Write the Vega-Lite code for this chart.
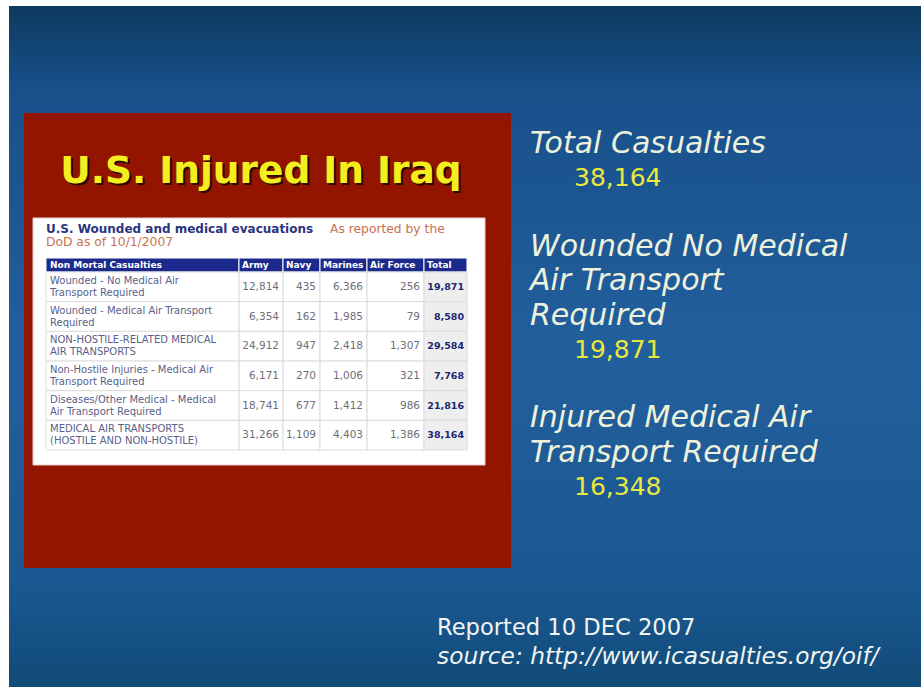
{
  "$schema": "https://vega.github.io/schema/vega-lite/v6.json",
  "width": 922,
  "height": 687,
  "autosize": {"type": "none"},
  "padding": 0,
  "background": "#ffffff",
  "config": {
    "view": {"stroke": null},
    "axis": {"disable": true},
    "text": {"font": "DejaVu Sans"}
  },
  "datasets": {
    "cells": [
      {"casualty": "Wounded - No Medical Air\nTransport Required", "branch": "Army", "count": 12814},
      {"casualty": "Wounded - No Medical Air\nTransport Required", "branch": "Navy", "count": 435},
      {"casualty": "Wounded - No Medical Air\nTransport Required", "branch": "Marines", "count": 6366},
      {"casualty": "Wounded - No Medical Air\nTransport Required", "branch": "Air Force", "count": 256},
      {"casualty": "Wounded - No Medical Air\nTransport Required", "branch": "Total", "count": 19871},
      {"casualty": "Wounded - Medical Air Transport\nRequired", "branch": "Army", "count": 6354},
      {"casualty": "Wounded - Medical Air Transport\nRequired", "branch": "Navy", "count": 162},
      {"casualty": "Wounded - Medical Air Transport\nRequired", "branch": "Marines", "count": 1985},
      {"casualty": "Wounded - Medical Air Transport\nRequired", "branch": "Air Force", "count": 79},
      {"casualty": "Wounded - Medical Air Transport\nRequired", "branch": "Total", "count": 8580},
      {"casualty": "NON-HOSTILE-RELATED MEDICAL\nAIR TRANSPORTS", "branch": "Army", "count": 24912},
      {"casualty": "NON-HOSTILE-RELATED MEDICAL\nAIR TRANSPORTS", "branch": "Navy", "count": 947},
      {"casualty": "NON-HOSTILE-RELATED MEDICAL\nAIR TRANSPORTS", "branch": "Marines", "count": 2418},
      {"casualty": "NON-HOSTILE-RELATED MEDICAL\nAIR TRANSPORTS", "branch": "Air Force", "count": 1307},
      {"casualty": "NON-HOSTILE-RELATED MEDICAL\nAIR TRANSPORTS", "branch": "Total", "count": 29584},
      {"casualty": "Non-Hostile Injuries - Medical Air\nTransport Required", "branch": "Army", "count": 6171},
      {"casualty": "Non-Hostile Injuries - Medical Air\nTransport Required", "branch": "Navy", "count": 270},
      {"casualty": "Non-Hostile Injuries - Medical Air\nTransport Required", "branch": "Marines", "count": 1006},
      {"casualty": "Non-Hostile Injuries - Medical Air\nTransport Required", "branch": "Air Force", "count": 321},
      {"casualty": "Non-Hostile Injuries - Medical Air\nTransport Required", "branch": "Total", "count": 7768},
      {"casualty": "Diseases/Other Medical - Medical\nAir Transport Required", "branch": "Army", "count": 18741},
      {"casualty": "Diseases/Other Medical - Medical\nAir Transport Required", "branch": "Navy", "count": 677},
      {"casualty": "Diseases/Other Medical - Medical\nAir Transport Required", "branch": "Marines", "count": 1412},
      {"casualty": "Diseases/Other Medical - Medical\nAir Transport Required", "branch": "Air Force", "count": 986},
      {"casualty": "Diseases/Other Medical - Medical\nAir Transport Required", "branch": "Total", "count": 21816},
      {"casualty": "MEDICAL AIR TRANSPORTS\n(HOSTILE AND NON-HOSTILE)", "branch": "Army", "count": 31266},
      {"casualty": "MEDICAL AIR TRANSPORTS\n(HOSTILE AND NON-HOSTILE)", "branch": "Navy", "count": 1109},
      {"casualty": "MEDICAL AIR TRANSPORTS\n(HOSTILE AND NON-HOSTILE)", "branch": "Marines", "count": 4403},
      {"casualty": "MEDICAL AIR TRANSPORTS\n(HOSTILE AND NON-HOSTILE)", "branch": "Air Force", "count": 1386},
      {"casualty": "MEDICAL AIR TRANSPORTS\n(HOSTILE AND NON-HOSTILE)", "branch": "Total", "count": 38164}
    ],
    "tableTitle": [
      {"text": "U.S. Wounded and medical evacuations", "line": "1", "part": "main"},
      {"text": "As reported by the", "line": "1", "part": "note"},
      {"text": "DoD as of 10/1/2007", "line": "2", "part": "note"}
    ],
    "stats": [
      {"line": "Total Casualties", "role": "label"},
      {"line": "38,164", "role": "value"},
      {"line": "Wounded No Medical", "role": "label"},
      {"line": "Air Transport", "role": "label"},
      {"line": "Required", "role": "label"},
      {"line": "19,871", "role": "value"},
      {"line": "Injured Medical Air", "role": "label"},
      {"line": "Transport Required", "role": "label"},
      {"line": "16,348", "role": "value"}
    ],
    "notes": [
      {"line": "Reported 10 DEC 2007", "style": "normal"},
      {"line": "source: http://www.icasualties.org/oif/", "style": "italic"}
    ]
  },
  "layer": [
    {
      "data": {"values": [{"part": "slide"}]},
      "mark": {"type": "rect", "fill": {"gradient": "linear", "x1": 0, "y1": 0, "x2": 0, "y2": 1, "stops": [
        {"offset": 0, "color": "#0d3a5e"},
        {"offset": 0.12, "color": "#18508a"},
        {"offset": 0.5, "color": "#225f9d"},
        {"offset": 0.85, "color": "#1b5891"},
        {"offset": 1, "color": "#104b78"}
      ]}},
      "encoding": {
        "x": {"field": "part", "type": "nominal", "scale": {"type": "band", "domain": ["slide"], "range": [9, 921], "paddingInner": 0, "paddingOuter": 0}},
        "y": {"field": "part", "type": "nominal", "scale": {"type": "band", "domain": ["slide"], "range": [6, 687], "paddingInner": 0, "paddingOuter": 0}}
      }
    },
    {
      "data": {"values": [{"part": "panel"}]},
      "mark": {"type": "rect", "color": "#931500"},
      "encoding": {
        "x": {"field": "part", "type": "nominal", "scale": {"type": "band", "domain": ["panel"], "range": [24, 511], "paddingInner": 0, "paddingOuter": 0}},
        "y": {"field": "part", "type": "nominal", "scale": {"type": "band", "domain": ["panel"], "range": [113, 568], "paddingInner": 0, "paddingOuter": 0}}
      }
    },
    {
      "data": {"values": [{"headline": "U.S. Injured In Iraq"}]},
      "mark": {"type": "text", "font": "DejaVu Sans", "fontWeight": "bold", "fontSize": 37.5, "color": "#1a0800", "opacity": 0.85, "dx": 2, "dy": 2, "align": "center", "baseline": "middle"},
      "encoding": {
        "text": {"field": "headline"},
        "x": {"field": "headline", "type": "nominal", "scale": {"type": "band", "domain": ["U.S. Injured In Iraq"], "range": [24, 498], "paddingInner": 0, "paddingOuter": 0}},
        "y": {"field": "headline", "type": "nominal", "scale": {"type": "band", "domain": ["U.S. Injured In Iraq"], "range": [152, 192], "paddingInner": 0, "paddingOuter": 0}}
      }
    },
    {
      "data": {"values": [{"headline": "U.S. Injured In Iraq"}]},
      "mark": {"type": "text", "font": "DejaVu Sans", "fontWeight": "bold", "fontSize": 37.5, "color": "#f3ef1f", "align": "center", "baseline": "middle"},
      "encoding": {
        "text": {"field": "headline"},
        "x": {"field": "headline", "type": "nominal", "scale": {"type": "band", "domain": ["U.S. Injured In Iraq"], "range": [24, 498], "paddingInner": 0, "paddingOuter": 0}},
        "y": {"field": "headline", "type": "nominal", "scale": {"type": "band", "domain": ["U.S. Injured In Iraq"], "range": [152, 192], "paddingInner": 0, "paddingOuter": 0}}
      }
    },
    {
      "data": {"values": [{"part": "sheet"}]},
      "mark": {"type": "rect", "color": "#ffffff", "stroke": "#e6d0cc", "strokeWidth": 1},
      "encoding": {
        "x": {"field": "part", "type": "nominal", "scale": {"type": "band", "domain": ["sheet"], "range": [33, 485], "paddingInner": 0, "paddingOuter": 0}},
        "y": {"field": "part", "type": "nominal", "scale": {"type": "band", "domain": ["sheet"], "range": [218, 465], "paddingInner": 0, "paddingOuter": 0}}
      }
    },
    {
      "data": {"name": "tableTitle"},
      "transform": [{"filter": "datum.part === 'main'"}],
      "mark": {"type": "text", "fontWeight": "bold", "fontSize": 12, "color": "#2b3480", "align": "left", "baseline": "middle"},
      "encoding": {
        "text": {"field": "text"},
        "x": {"datum": "t", "type": "nominal", "bandPosition": 0, "scale": {"type": "band", "domain": ["t"], "range": [46, 470], "paddingInner": 0, "paddingOuter": 0}},
        "y": {"field": "line", "type": "nominal", "scale": {"type": "band", "domain": ["1", "2"], "range": [222.5, 248.5], "paddingInner": 0, "paddingOuter": 0}}
      }
    },
    {
      "data": {"name": "tableTitle"},
      "transform": [{"filter": "datum.part === 'note'"}],
      "mark": {"type": "text", "fontSize": 12.3, "color": "#c9714f", "align": "left", "baseline": "middle"},
      "encoding": {
        "text": {"field": "text"},
        "x": {"field": "line", "type": "nominal", "bandPosition": 0, "scale": {"type": "band", "domain": ["2", "1"], "range": [46, 614], "paddingInner": 0, "paddingOuter": 0}},
        "y": {"field": "line", "type": "nominal", "scale": {"type": "band", "domain": ["1", "2"], "range": [222.5, 248.5], "paddingInner": 0, "paddingOuter": 0}}
      }
    },
    {
      "data": {"values": [{"header": "Non Mortal Casualties"}]},
      "encoding": {
        "x": {"field": "header", "type": "nominal", "bandPosition": 0, "scale": {"type": "band", "domain": ["Non Mortal Casualties"], "range": [46, 239], "paddingInner": 0, "paddingOuter": 0}},
        "y": {"field": "header", "type": "nominal", "scale": {"type": "band", "domain": ["Non Mortal Casualties"], "range": [258, 272], "paddingInner": 0, "paddingOuter": 0}}
      },
      "layer": [
        {"mark": {"type": "rect", "color": "#1b2a8c", "stroke": "#ffffff", "strokeWidth": 1}},
        {"mark": {"type": "text", "fontWeight": "bold", "fontSize": 9, "color": "#ffffff", "align": "left", "baseline": "middle", "dx": 4}, "encoding": {"text": {"field": "header"}}}
      ]
    },
    {
      "data": {"name": "cells"},
      "transform": [{"filter": "datum.branch === 'Total'"}],
      "encoding": {
        "x": {"datum": "Non Mortal Casualties", "type": "nominal", "bandPosition": 0, "scale": {"type": "band", "domain": ["Non Mortal Casualties"], "range": [46, 239], "paddingInner": 0, "paddingOuter": 0}},
        "y": {"field": "casualty", "type": "nominal", "sort": null, "scale": {"type": "band", "range": [272, 450], "paddingInner": 0, "paddingOuter": 0}}
      },
      "layer": [
        {"mark": {"type": "rect", "color": "#ffffff", "stroke": "#dcdcdc", "strokeWidth": 1}},
        {"mark": {"type": "text", "fontSize": 10, "lineHeight": 12, "lineBreak": "\n", "color": "#5a5f8a", "align": "left", "baseline": "middle", "dx": 4, "dy": -6}, "encoding": {"text": {"field": "casualty"}}}
      ]
    },
    {
      "data": {"name": "cells"},
      "transform": [{"filter": "datum.branch === 'Army'"}],
      "resolve": {"scale": {"y": "independent"}},
      "layer": [
        {
          "transform": [{"aggregate": [{"op": "count", "as": "n"}], "groupby": ["branch"]}],
          "encoding": {
            "x": {"field": "branch", "type": "nominal", "bandPosition": 0, "scale": {"type": "band", "domain": ["Army"], "range": [239, 283], "paddingInner": 0, "paddingOuter": 0}},
            "y": {"field": "branch", "type": "nominal", "scale": {"type": "band", "domain": ["Army"], "range": [258, 272], "paddingInner": 0, "paddingOuter": 0}}
          },
          "layer": [
            {"mark": {"type": "rect", "color": "#1b2a8c", "stroke": "#ffffff", "strokeWidth": 1}},
            {"mark": {"type": "text", "fontWeight": "bold", "fontSize": 9, "color": "#ffffff", "align": "left", "baseline": "middle", "dx": 3}, "encoding": {"text": {"field": "branch"}}}
          ]
        },
        {
          "encoding": {
            "x": {"field": "branch", "type": "nominal", "bandPosition": 1, "scale": {"type": "band", "domain": ["Army"], "range": [239, 283], "paddingInner": 0, "paddingOuter": 0}},
            "y": {"field": "casualty", "type": "nominal", "sort": null, "scale": {"type": "band", "range": [272, 450], "paddingInner": 0, "paddingOuter": 0}}
          },
          "layer": [
            {"mark": {"type": "rect", "color": "#ffffff", "stroke": "#dcdcdc", "strokeWidth": 1}},
            {"mark": {"type": "text", "fontSize": 10.5, "color": "#6e6e78", "align": "right", "baseline": "middle", "dx": -4}, "encoding": {"text": {"field": "count", "type": "quantitative", "format": ","}}}
          ]
        }
      ]
    },
    {
      "data": {"name": "cells"},
      "transform": [{"filter": "datum.branch === 'Navy'"}],
      "resolve": {"scale": {"y": "independent"}},
      "layer": [
        {
          "transform": [{"aggregate": [{"op": "count", "as": "n"}], "groupby": ["branch"]}],
          "encoding": {
            "x": {"field": "branch", "type": "nominal", "bandPosition": 0, "scale": {"type": "band", "domain": ["Navy"], "range": [283, 320], "paddingInner": 0, "paddingOuter": 0}},
            "y": {"field": "branch", "type": "nominal", "scale": {"type": "band", "domain": ["Navy"], "range": [258, 272], "paddingInner": 0, "paddingOuter": 0}}
          },
          "layer": [
            {"mark": {"type": "rect", "color": "#1b2a8c", "stroke": "#ffffff", "strokeWidth": 1}},
            {"mark": {"type": "text", "fontWeight": "bold", "fontSize": 9, "color": "#ffffff", "align": "left", "baseline": "middle", "dx": 3}, "encoding": {"text": {"field": "branch"}}}
          ]
        },
        {
          "encoding": {
            "x": {"field": "branch", "type": "nominal", "bandPosition": 1, "scale": {"type": "band", "domain": ["Navy"], "range": [283, 320], "paddingInner": 0, "paddingOuter": 0}},
            "y": {"field": "casualty", "type": "nominal", "sort": null, "scale": {"type": "band", "range": [272, 450], "paddingInner": 0, "paddingOuter": 0}}
          },
          "layer": [
            {"mark": {"type": "rect", "color": "#ffffff", "stroke": "#dcdcdc", "strokeWidth": 1}},
            {"mark": {"type": "text", "fontSize": 10.5, "color": "#6e6e78", "align": "right", "baseline": "middle", "dx": -4}, "encoding": {"text": {"field": "count", "type": "quantitative", "format": ","}}}
          ]
        }
      ]
    },
    {
      "data": {"name": "cells"},
      "transform": [{"filter": "datum.branch === 'Marines'"}],
      "resolve": {"scale": {"y": "independent"}},
      "layer": [
        {
          "transform": [{"aggregate": [{"op": "count", "as": "n"}], "groupby": ["branch"]}],
          "encoding": {
            "x": {"field": "branch", "type": "nominal", "bandPosition": 0, "scale": {"type": "band", "domain": ["Marines"], "range": [320, 367], "paddingInner": 0, "paddingOuter": 0}},
            "y": {"field": "branch", "type": "nominal", "scale": {"type": "band", "domain": ["Marines"], "range": [258, 272], "paddingInner": 0, "paddingOuter": 0}}
          },
          "layer": [
            {"mark": {"type": "rect", "color": "#1b2a8c", "stroke": "#ffffff", "strokeWidth": 1}},
            {"mark": {"type": "text", "fontWeight": "bold", "fontSize": 9, "color": "#ffffff", "align": "left", "baseline": "middle", "dx": 3}, "encoding": {"text": {"field": "branch"}}}
          ]
        },
        {
          "encoding": {
            "x": {"field": "branch", "type": "nominal", "bandPosition": 1, "scale": {"type": "band", "domain": ["Marines"], "range": [320, 367], "paddingInner": 0, "paddingOuter": 0}},
            "y": {"field": "casualty", "type": "nominal", "sort": null, "scale": {"type": "band", "range": [272, 450], "paddingInner": 0, "paddingOuter": 0}}
          },
          "layer": [
            {"mark": {"type": "rect", "color": "#ffffff", "stroke": "#dcdcdc", "strokeWidth": 1}},
            {"mark": {"type": "text", "fontSize": 10.5, "color": "#6e6e78", "align": "right", "baseline": "middle", "dx": -4}, "encoding": {"text": {"field": "count", "type": "quantitative", "format": ","}}}
          ]
        }
      ]
    },
    {
      "data": {"name": "cells"},
      "transform": [{"filter": "datum.branch === 'Air Force'"}],
      "resolve": {"scale": {"y": "independent"}},
      "layer": [
        {
          "transform": [{"aggregate": [{"op": "count", "as": "n"}], "groupby": ["branch"]}],
          "encoding": {
            "x": {"field": "branch", "type": "nominal", "bandPosition": 0, "scale": {"type": "band", "domain": ["Air Force"], "range": [367, 424], "paddingInner": 0, "paddingOuter": 0}},
            "y": {"field": "branch", "type": "nominal", "scale": {"type": "band", "domain": ["Air Force"], "range": [258, 272], "paddingInner": 0, "paddingOuter": 0}}
          },
          "layer": [
            {"mark": {"type": "rect", "color": "#1b2a8c", "stroke": "#ffffff", "strokeWidth": 1}},
            {"mark": {"type": "text", "fontWeight": "bold", "fontSize": 9, "color": "#ffffff", "align": "left", "baseline": "middle", "dx": 3}, "encoding": {"text": {"field": "branch"}}}
          ]
        },
        {
          "encoding": {
            "x": {"field": "branch", "type": "nominal", "bandPosition": 1, "scale": {"type": "band", "domain": ["Air Force"], "range": [367, 424], "paddingInner": 0, "paddingOuter": 0}},
            "y": {"field": "casualty", "type": "nominal", "sort": null, "scale": {"type": "band", "range": [272, 450], "paddingInner": 0, "paddingOuter": 0}}
          },
          "layer": [
            {"mark": {"type": "rect", "color": "#ffffff", "stroke": "#dcdcdc", "strokeWidth": 1}},
            {"mark": {"type": "text", "fontSize": 10.5, "color": "#6e6e78", "align": "right", "baseline": "middle", "dx": -4}, "encoding": {"text": {"field": "count", "type": "quantitative", "format": ","}}}
          ]
        }
      ]
    },
    {
      "data": {"name": "cells"},
      "transform": [{"filter": "datum.branch === 'Total'"}],
      "resolve": {"scale": {"y": "independent"}},
      "layer": [
        {
          "transform": [{"aggregate": [{"op": "count", "as": "n"}], "groupby": ["branch"]}],
          "encoding": {
            "x": {"field": "branch", "type": "nominal", "bandPosition": 0, "scale": {"type": "band", "domain": ["Total"], "range": [424, 467], "paddingInner": 0, "paddingOuter": 0}},
            "y": {"field": "branch", "type": "nominal", "scale": {"type": "band", "domain": ["Total"], "range": [258, 272], "paddingInner": 0, "paddingOuter": 0}}
          },
          "layer": [
            {"mark": {"type": "rect", "color": "#1b2a8c", "stroke": "#ffffff", "strokeWidth": 1}},
            {"mark": {"type": "text", "fontWeight": "bold", "fontSize": 9, "color": "#ffffff", "align": "left", "baseline": "middle", "dx": 3}, "encoding": {"text": {"field": "branch"}}}
          ]
        },
        {
          "encoding": {
            "x": {"field": "branch", "type": "nominal", "bandPosition": 1, "scale": {"type": "band", "domain": ["Total"], "range": [424, 467], "paddingInner": 0, "paddingOuter": 0}},
            "y": {"field": "casualty", "type": "nominal", "sort": null, "scale": {"type": "band", "range": [272, 450], "paddingInner": 0, "paddingOuter": 0}}
          },
          "layer": [
            {"mark": {"type": "rect", "color": "#eeeeee", "stroke": "#dcdcdc", "strokeWidth": 1}},
            {"mark": {"type": "text", "fontSize": 9.5, "fontWeight": "bold", "color": "#1d2570", "align": "right", "baseline": "middle", "dx": -3}, "encoding": {"text": {"field": "count", "type": "quantitative", "format": ","}}}
          ]
        }
      ]
    },
    {
      "data": {"name": "stats"},
      "transform": [{"filter": "datum.role === 'label'"}],
      "mark": {"type": "text", "fontSize": 30, "fontStyle": "italic", "color": "#eef2dc", "align": "left", "baseline": "middle"},
      "encoding": {
        "text": {"field": "line"},
        "x": {"field": "role", "type": "nominal", "bandPosition": 0, "scale": {"type": "band", "domain": ["label", "value"], "range": [530, 574], "paddingInner": 0, "paddingOuter": 0}},
        "y": {"field": "line", "type": "nominal", "scale": {"type": "band", "domain": ["Total Casualties", "38,164", " ", "Wounded No Medical", "Air Transport", "Required", "19,871", "  ", "Injured Medical Air", "Transport Required", "16,348"], "range": [126.85, 504.15], "paddingInner": 0, "paddingOuter": 0}}
      }
    },
    {
      "data": {"name": "stats"},
      "transform": [{"filter": "datum.role === 'value'"}],
      "mark": {"type": "text", "fontSize": 25, "color": "#ebe83c", "align": "left", "baseline": "middle"},
      "encoding": {
        "text": {"field": "line"},
        "x": {"field": "role", "type": "nominal", "bandPosition": 0, "scale": {"type": "band", "domain": ["label", "value"], "range": [530, 618], "paddingInner": 0, "paddingOuter": 0}},
        "y": {"field": "line", "type": "nominal", "scale": {"type": "band", "domain": ["Total Casualties", "38,164", " ", "Wounded No Medical", "Air Transport", "Required", "19,871", "  ", "Injured Medical Air", "Transport Required", "16,348"], "range": [126.85, 504.15], "paddingInner": 0, "paddingOuter": 0}}
      }
    },
    {
      "data": {"name": "notes"},
      "transform": [{"filter": "datum.style === 'normal'"}],
      "mark": {"type": "text", "fontSize": 22.6, "color": "#f2f4f2", "align": "left", "baseline": "middle"},
      "encoding": {
        "text": {"field": "line"},
        "x": {"datum": "note", "type": "nominal", "bandPosition": 0, "scale": {"type": "band", "domain": ["note"], "range": [437, 900], "paddingInner": 0, "paddingOuter": 0}},
        "y": {"field": "line", "type": "nominal", "scale": {"type": "band", "domain": ["Reported 10 DEC 2007", "source: http://www.icasualties.org/oif/"], "range": [613.5, 671.5], "paddingInner": 0, "paddingOuter": 0}}
      }
    },
    {
      "data": {"name": "notes"},
      "transform": [{"filter": "datum.style === 'italic'"}],
      "mark": {"type": "text", "fontSize": 23.3, "fontStyle": "italic", "color": "#f2f4f2", "align": "left", "baseline": "middle"},
      "encoding": {
        "text": {"field": "line"},
        "x": {"datum": "note", "type": "nominal", "bandPosition": 0, "scale": {"type": "band", "domain": ["note"], "range": [437, 900], "paddingInner": 0, "paddingOuter": 0}},
        "y": {"field": "line", "type": "nominal", "scale": {"type": "band", "domain": ["Reported 10 DEC 2007", "source: http://www.icasualties.org/oif/"], "range": [613.5, 671.5], "paddingInner": 0, "paddingOuter": 0}}
      }
    }
  ],
  "resolve": {"scale": {"x": "independent", "y": "independent", "color": "independent"}}
}
